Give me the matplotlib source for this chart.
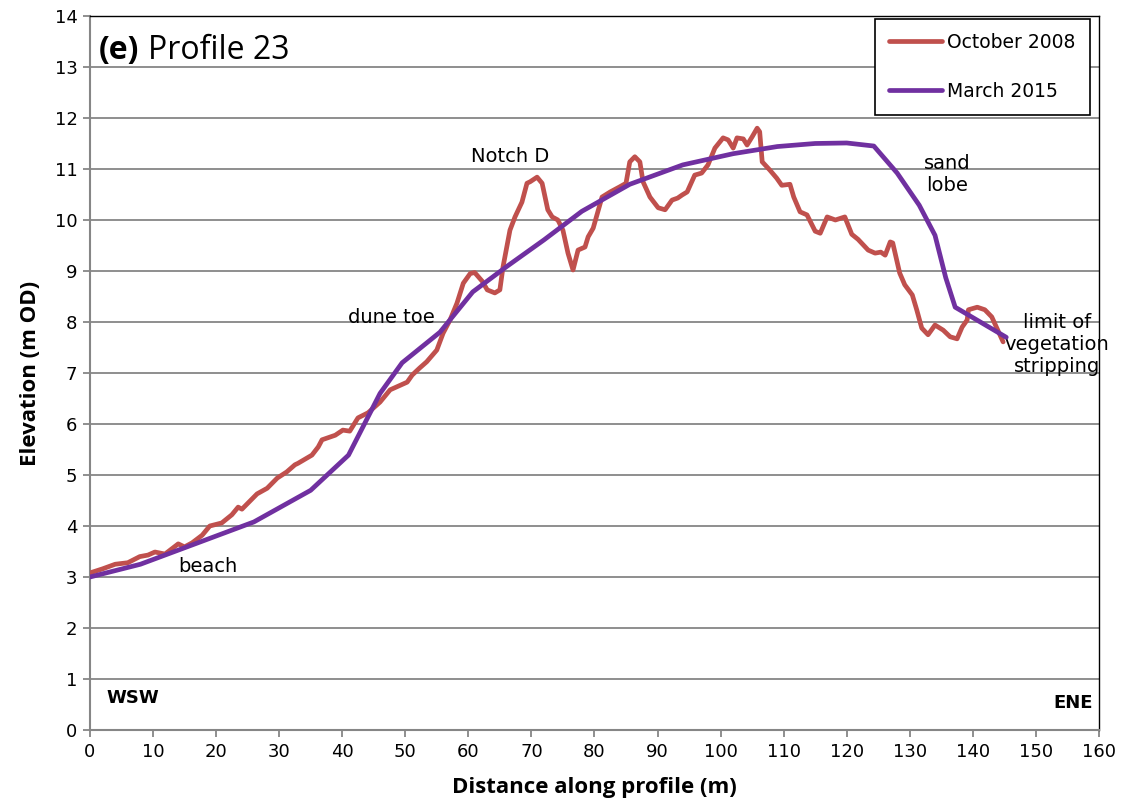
"""Profile 23: October 2008 vs March 2015 elevation profiles."""
import matplotlib
matplotlib.use("Agg")
import matplotlib.pyplot as plt

# October 2008 profile (distance m, elevation m OD)
oct_x = [0, 2, 4, 6, 7.9, 9.2, 10.3, 11.9, 14, 15, 16.2, 17.8, 19, 20.9, 22.5,
         23.5, 24.1, 26.5, 28.1, 29.7, 31.2, 32.5, 33, 35.2, 36.2, 36.8, 38.9,
         40.1, 41.2, 42.5, 44.1, 46, 47.6, 50.3, 51.1, 52.3, 53.4, 55, 56,
         57.1, 58.2, 59.2, 60.3, 61.0, 62.2, 63, 64.2, 65, 65.5, 66.6, 67.4,
         68.5, 69.3, 69.8, 70.9, 71.7, 72.6, 73.3, 74.2, 75, 75.8, 76.6, 77.4,
         78.5, 79, 79.8, 80.4, 81.2, 82.5, 84, 85.0, 85.6, 86.4, 87.2, 87.7,
         88.8, 90.1, 91.2, 92.3, 93.2, 93.9, 94.7, 95.9, 97, 98, 99.1, 100.4,
         101.2, 102, 102.6, 103.6, 104.2, 105, 105.8, 106.2, 106.6, 107.8,
         108.9, 109.7, 111, 111.6, 112.6, 113.7, 115, 115.8, 116.9, 118.2,
         119.7, 120.8, 121.8, 123.4, 124.5, 125.4, 126.1, 126.9, 127.3, 128.4,
         129.2, 130.4, 131.1, 131.9, 132.9, 134, 135.3, 136.4, 137.5, 138.3,
         139.1, 139.3, 140.7, 141.9, 143, 143.8, 144.8]
oct_y = [3.08, 3.16, 3.25, 3.28, 3.4, 3.43, 3.49, 3.45, 3.65, 3.59, 3.67, 3.82,
         4.0, 4.06, 4.22, 4.37, 4.33, 4.63, 4.74, 4.94, 5.06, 5.2, 5.23, 5.39,
         5.55, 5.69, 5.78, 5.88, 5.86, 6.12, 6.22, 6.43, 6.67, 6.82, 6.96, 7.1,
         7.22, 7.45, 7.78, 8.04, 8.37, 8.76, 8.95, 8.97, 8.8, 8.63, 8.57, 8.63,
         9.08, 9.8, 10.06, 10.35, 10.72, 10.75, 10.84, 10.72, 10.2, 10.06, 10.0,
         9.8, 9.35, 9.02, 9.41, 9.47, 9.67, 9.84, 10.1, 10.45, 10.55, 10.65,
         10.72, 11.14, 11.24, 11.14, 10.75, 10.45, 10.24, 10.2, 10.39, 10.43,
         10.49, 10.55, 10.88, 10.92, 11.08, 11.41, 11.61, 11.57, 11.41, 11.61,
         11.59, 11.47, 11.63, 11.8, 11.73, 11.14, 10.98, 10.82, 10.68, 10.7,
         10.45, 10.16, 10.1, 9.78, 9.74, 10.06, 10.0, 10.06, 9.72, 9.62, 9.41,
         9.35, 9.37, 9.31, 9.57, 9.55, 8.96, 8.73, 8.53, 8.24, 7.88, 7.75, 7.94,
         7.84, 7.71, 7.67, 7.9, 8.04, 8.24, 8.29, 8.24, 8.1, 7.88, 7.61]

# March 2015 profile
mar_x = [0, 8, 26, 35, 41, 46, 49.5, 55.5, 60.7, 66, 72, 78, 85.6, 94, 102,
         109, 115, 120, 124.3, 128, 131.5, 134, 135.7, 137.2, 145.3]
mar_y = [3.0, 3.25, 4.08, 4.7, 5.39, 6.6, 7.2, 7.8, 8.59, 9.08, 9.61, 10.17,
         10.7, 11.08, 11.3, 11.44, 11.5, 11.51, 11.45, 10.92, 10.29, 9.7, 8.87,
         8.29, 7.7]

series_labels = ["October 2008", "March 2015"]
x_ticks = list(range(0, 161, 10))
y_ticks = list(range(0, 15))

RED = "#C0504D"
PURPLE = "#7030A0"
GRID = "#868686"

fig = plt.figure(figsize=(11.23, 8.07), dpi=100)
ax = fig.add_axes([0.0801, 0.0954, 0.8985, 0.8848])

ax.plot(oct_x, oct_y, color=RED, lw=3.4, solid_joinstyle="round",
        solid_capstyle="round", label=series_labels[0], zorder=3)
ax.plot(mar_x, mar_y, color=PURPLE, lw=3.4, solid_joinstyle="round",
        solid_capstyle="round", label=series_labels[1], zorder=4)

ax.set_xlim(0, 160)
ax.set_ylim(0, 14)
ax.set_xticks(x_ticks)
ax.set_yticks(y_ticks)
ax.yaxis.grid(True, color=GRID, lw=1.3)
ax.set_axisbelow(True)

for s in ("top", "right"):
    ax.spines[s].set_color("black")
    ax.spines[s].set_linewidth(1.0)
for s in ("left", "bottom"):
    ax.spines[s].set_color(GRID)
    ax.spines[s].set_linewidth(1.5)
ax.tick_params(axis="both", direction="out", length=5, width=1.3, color=GRID,
               labelsize=13, pad=4)
ax.tick_params(top=False, right=False)

lab_font = dict(family="Open Sans", fontweight="bold", fontsize=16)
ax.set_xlabel("Distance along profile (m)", labelpad=12, **lab_font)
ax.set_ylabel("Elevation (m OD)", labelpad=10, **lab_font)

# panel title
ax.text(0.009, 0.975, "(e)", transform=ax.transAxes, ha="left", va="top",
        family="Open Sans", fontweight="bold", fontsize=23)
ax.text(0.058, 0.975, "Profile 23", transform=ax.transAxes, ha="left",
        va="top", family="Open Sans", fontsize=23)

ann = dict(fontsize=14, ha="center", va="center")
ax.text(66.6, 11.24, "Notch D", **ann)
ax.text(47.8, 8.08, "dune toe", **ann)
ax.text(18.7, 3.2, "beach", **ann)
ax.text(135.9, 10.9, "sand\nlobe", **ann)
ax.text(153.3, 7.55, "limit of\nvegetation\nstripping", **ann)

ax.text(0.016, 0.045, "WSW", transform=ax.transAxes, ha="left", va="center",
        fontweight="bold", fontsize=13)
ax.text(0.994, 0.038, "ENE", transform=ax.transAxes, ha="right", va="center",
        fontweight="bold", fontsize=13)

leg = ax.legend(loc="upper right", bbox_to_anchor=(0.991, 0.996),
                borderaxespad=0, fontsize=13.5, fancybox=False,
                framealpha=1, edgecolor="black", handlelength=2.8,
                handletextpad=0.3, labelspacing=1.6, borderpad=0.75)
leg.get_frame().set_linewidth(1.2)

fig.savefig("out.png", dpi=100)
plt.close(fig)
